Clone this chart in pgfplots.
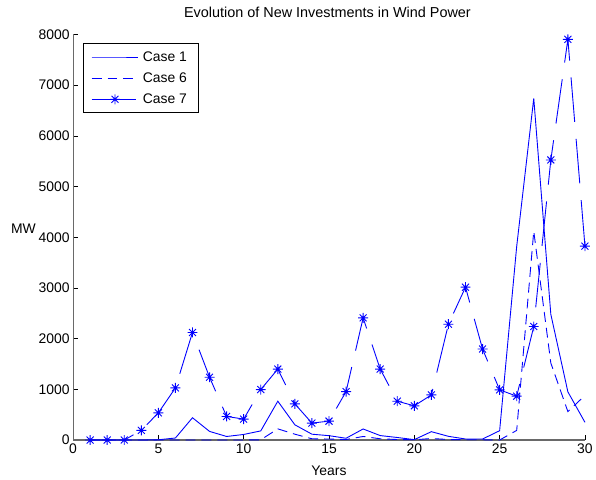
\documentclass[border=0pt]{standalone}
\usepackage{fontspec}
\setmainfont{Liberation Sans}
\usepackage{pgfplots}
\pgfplotsset{compat=1.18}
\definecolor{mblue}{RGB}{0,0,255}
\definecolor{axgray}{RGB}{105,105,105}
\pgfdeclareplotmark{mstar}{%
  \pgfpathmoveto{\pgfqpoint{-\pgfplotmarksize}{0pt}}\pgfpathlineto{\pgfqpoint{\pgfplotmarksize}{0pt}}%
  \pgfpathmoveto{\pgfqpoint{0pt}{-\pgfplotmarksize}}\pgfpathlineto{\pgfqpoint{0pt}{\pgfplotmarksize}}%
  \pgfpathmoveto{\pgfqpoint{-0.7\pgfplotmarksize}{-0.7\pgfplotmarksize}}\pgfpathlineto{\pgfqpoint{0.7\pgfplotmarksize}{0.7\pgfplotmarksize}}%
  \pgfpathmoveto{\pgfqpoint{-0.7\pgfplotmarksize}{0.7\pgfplotmarksize}}\pgfpathlineto{\pgfqpoint{0.7\pgfplotmarksize}{-0.7\pgfplotmarksize}}%
  \pgfusepathqstroke}
\pgfplotstableread{
x c1 c6 c7
1 0 0 0
2 0 0 0
3 0 0 0
4 0 0 190
5 5 0 537
6 40 0 1028
7 440 0 2122
8 170 0 1238
9 70 0 465
10 110 0 413
11 180 5 995
12 766 220 1400
13 300 115 713
14 115 25 334
15 86 20 373
16 35 10 955
17 218 70 2410
18 88 25 1400
19 50 10 766
20 8 5 675
21 165 30 890
22 73 10 2285
23 20 5 3015
24 20 5 1795
25 184 0 990
26 3820 190 865
27 6740 4120 2240
28 2480 1520 5525
29 950 560 7905
30 350 880 3825
}\datatable
\begin{document}
\begin{tikzpicture}
\begin{axis}[
  scale only axis, width=515pt, height=408pt,
  xmin=0, xmax=30, ymin=0, ymax=8000,
  clip=false,
  axis x line=bottom, axis y line=left,
  axis line style={draw=axgray, line width=1.1pt, -},
  tick align=inside,
  major tick length=5pt,
  tick style={black, line width=0.6pt},
  xtick={0,5,...,30}, ytick={0,1000,...,8000},
  scaled y ticks=false,
  /pgf/number format/1000 sep={},
  /pgf/number format/assume math mode=true,
  ticklabel style={font=\fontsize{14}{16}\selectfont},
  title={Evolution of New Investments in Wind Power},
  title style={font=\fontsize{14.5}{17}\selectfont, at={(axis description cs:0.497,1.039)}, anchor=center},
  xlabel={Years},
  xlabel style={font=\fontsize{14}{16}\selectfont, at={(axis description cs:0.5,-0.077)}, anchor=center},
  ylabel={MW},
  ylabel style={font=\fontsize{14}{16}\selectfont, rotate=-90, at={(axis description cs:-0.097,0.521)}, anchor=center},
  legend style={at={(axis description cs:0.019,0.979)}, anchor=north west, draw=black, line width=0.9pt,
    font=\fontsize{14}{16}\selectfont, inner xsep=8pt, inner ysep=6pt, row sep=6pt,
    nodes={inner xsep=4pt}},
  legend cell align=left,
  legend image code/.code={\draw[mark repeat=2,mark phase=2] plot coordinates {(0pt,0pt) (23.5pt,0pt) (47pt,0pt)};},
]
\addplot[mblue, line width=0.9pt] table[x=x,y=c1] {\datatable};
\addlegendentry{Case 1}
\addplot[mblue, line width=0.9pt, dash pattern=on 10pt off 6pt] table[x=x,y=c6] {\datatable};
\addlegendentry{Case 6}
\addplot[mblue, line width=0.9pt, dash pattern=on 45pt off 17pt, mark=mstar, mark size=5pt, mark options={solid}] table[x=x,y=c7] {\datatable};
\addlegendentry{Case 7}
\end{axis}
\path (current axis.south west) ++(-73.5pt,-39.3pt) rectangle ++(596pt,482pt);
\end{tikzpicture}
\end{document}
